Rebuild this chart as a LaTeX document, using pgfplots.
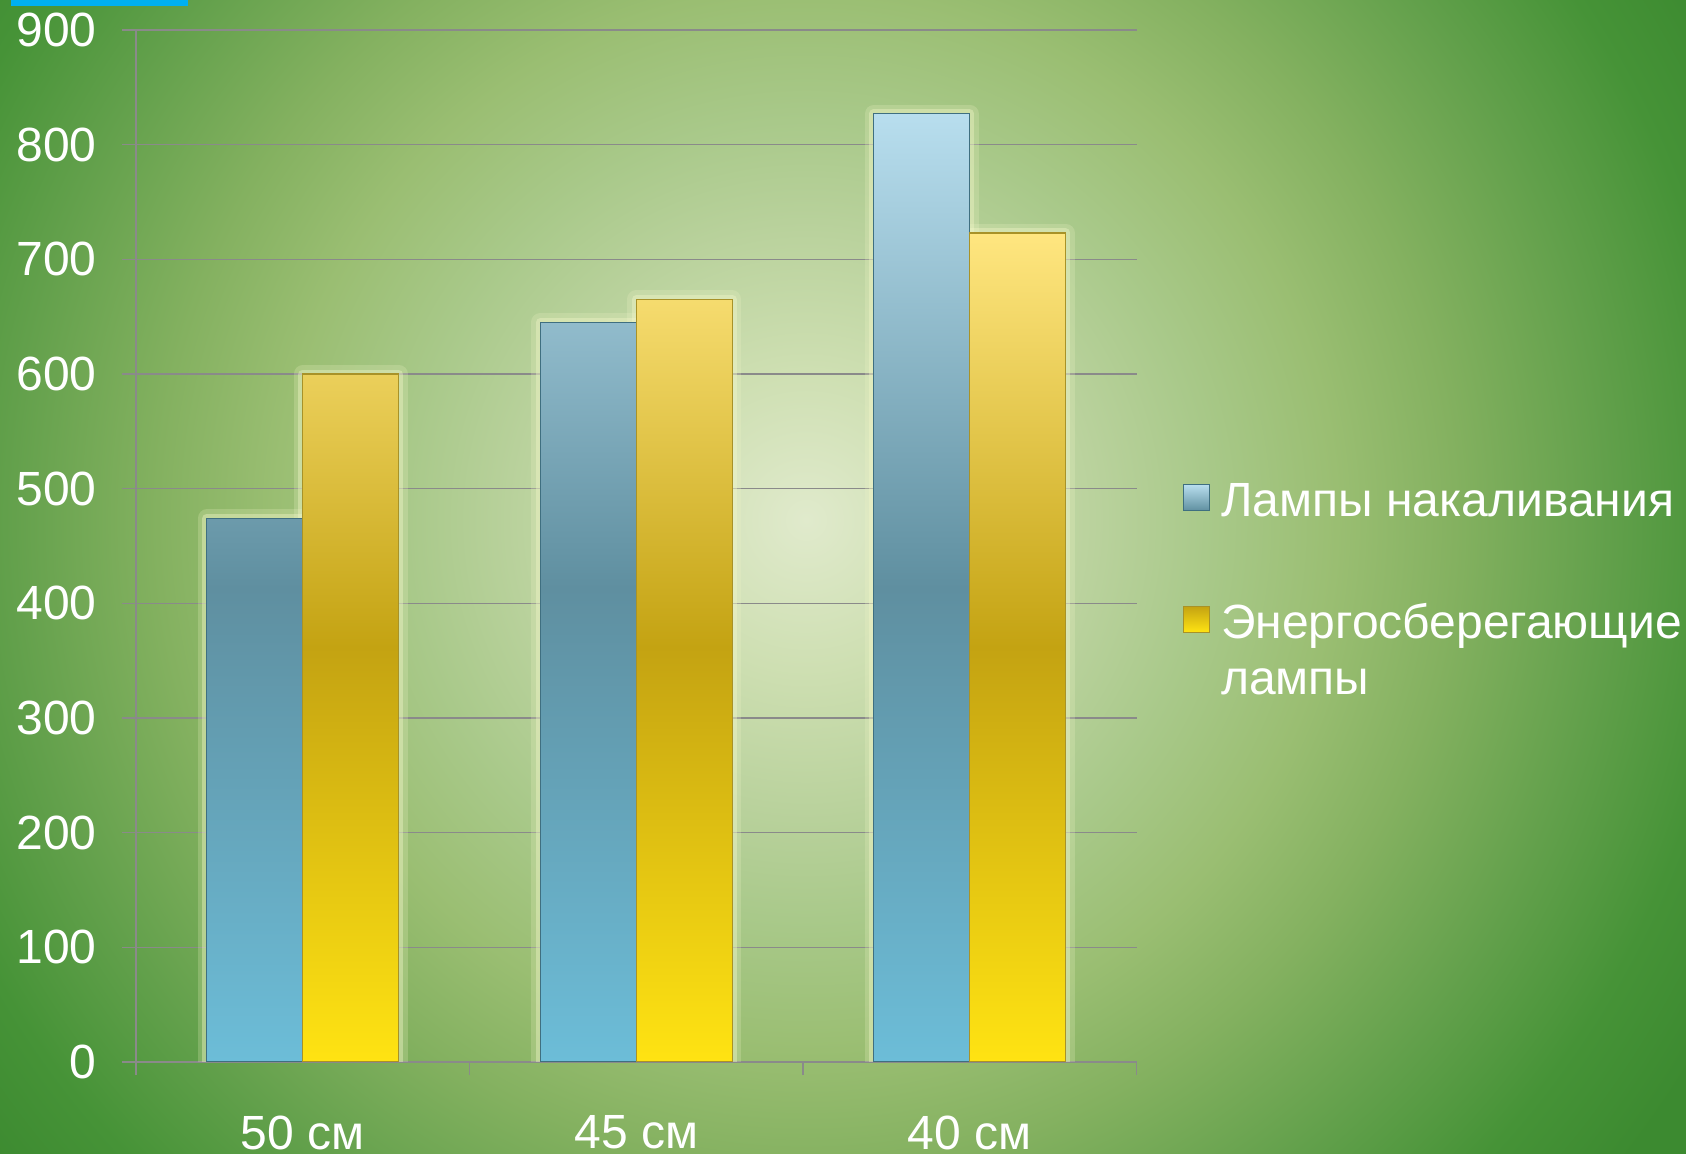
\documentclass[border=0pt]{standalone}
\usepackage{pgfplots}
\pgfplotsset{compat=1.18}
\usepackage{fontspec}
\setmainfont{Liberation Sans}
\definecolor{bg0}{HTML}{E0EACC}
\definecolor{bg1}{HTML}{CEDFB2}
\definecolor{bg2}{HTML}{B8D19B}
\definecolor{bg3}{HTML}{A9C98A}
\definecolor{bg4}{HTML}{9ABE72}
\definecolor{bg5}{HTML}{84B160}
\definecolor{bg6}{HTML}{62A04B}
\definecolor{bg7}{HTML}{469337}
\definecolor{bg8}{HTML}{3C8A30}
\definecolor{axgray}{HTML}{8A8A8A}
\definecolor{cyanbar}{HTML}{00B0F0}
\definecolor{blueT}{HTML}{B8DEEE}
\definecolor{blueM}{HTML}{5F8FA0}
\definecolor{blueB}{HTML}{6CBDD8}
\definecolor{blueD}{HTML}{3F6F80}
\definecolor{yelT}{HTML}{FFE680}
\definecolor{yelM}{HTML}{C4A312}
\definecolor{yelB}{HTML}{FFE312}
\definecolor{yelD}{HTML}{A89228}
\definecolor{glowc}{HTML}{F2F6C8}
\pgfdeclareradialshading{bgshade}{\pgfpoint{0bp}{0bp}}{color(0bp)=(bg0); color(3.6bp)=(bg1); color(7.2bp)=(bg2); color(9.6bp)=(bg3); color(12.75bp)=(bg4); color(15.6bp)=(bg5); color(19.25bp)=(bg6); color(22.35bp)=(bg7); color(25bp)=(bg8); color(50bp)=(bg8)}
\newcommand{\lbl}{\fontsize{24}{28}\selectfont}
\pgfplotstableread{
x blue yellow
0 474 600
1 645 665
2 827 723
}\datatab
\begin{document}
\begin{tikzpicture}
\useasboundingbox (0,0) rectangle (843pt,577pt);
\begin{scope}
\clip (0,0) rectangle (843pt,577pt);
\shade[shading=bgshade] (-117pt,-203pt) rectangle (923pt,837pt);
\end{scope}
\fill[cyanbar] (5.5pt,574pt) rectangle (94pt,577pt);
\begin{axis}[
  at={(68pt,46pt)}, anchor=south west, scale only axis,
  width=500.25pt, height=516pt,
  xmin=-0.5, xmax=2.5, ymin=0, ymax=900,
  ytick={0,100,...,900},
  xtick={0,1,2}, xticklabels={50 см,45 см,40 см},
  minor xtick={-0.5,0.5,1.5,2.5},
  axis x line*=bottom, axis y line*=left,
  axis line style={draw=axgray, line width=0.6pt, -},
  ymajorgrids, grid style={draw=axgray, line width=0.6pt},
  tick align=outside, major tick length=7pt, minor tick length=6.5pt,
  tick style={draw=axgray, line width=0.6pt},
  major x tick style={draw=none},
  /pgf/number format/assume math mode=true,
  ticklabel style={font=\lbl, text=white, inner sep=0pt},
  yticklabel style={anchor=east, xshift=-12.5pt},
  xticklabel style={anchor=north, yshift=-19.7pt},
  ybar, bar width=48pt,
  legend style={at={(1.0465,0.5603)}, anchor=north west, draw=none, fill=none,
    inner sep=0pt, outer sep=0pt, font=\lbl, text=white,
    nodes={inner sep=0pt}, column sep=5.5pt, row sep=41.6pt,
    cells={anchor=base west, align=left}},
]
\addplot[bar shift=-24pt, draw=glowc, draw opacity=0.22, line width=9pt, line join=round, fill=none, forget plot] table[x=x, y=blue] {\datatab};
\addplot[bar shift=24pt, draw=glowc, draw opacity=0.22, line width=9pt, line join=round, fill=none, forget plot] table[x=x, y=yellow] {\datatab};
\addplot[bar shift=-24pt, draw=glowc, draw opacity=0.4, line width=4.5pt, line join=round, fill=none, forget plot] table[x=x, y=blue] {\datatab};
\addplot[bar shift=24pt, draw=glowc, draw opacity=0.4, line width=4.5pt, line join=round, fill=none, forget plot] table[x=x, y=yellow] {\datatab};
\addplot[bar shift=-24pt, draw=blueD, line width=0.6pt, top color=blueT, bottom color=blueB, middle color=blueM,
  legend image code/.code={\draw[draw=blueD, line width=0.6pt, top color=blueT, bottom color=blueM] (0pt,3pt) rectangle (13pt,16pt);}] table[x=x, y=blue] {\datatab};
\addlegendentry{Лампы накаливания}
\addplot[bar shift=24pt, draw=yelD, line width=0.6pt, top color=yelT, bottom color=yelB, middle color=yelM,
  legend image code/.code={\draw[draw=yelD, line width=0.6pt, top color=yelM, bottom color=yelB] (0pt,31pt) rectangle (13pt,44pt);}] table[x=x, y=yellow] {\datatab};
\addlegendentry{Энергосберегающие\\лампы}
\end{axis}
\end{tikzpicture}
\end{document}
